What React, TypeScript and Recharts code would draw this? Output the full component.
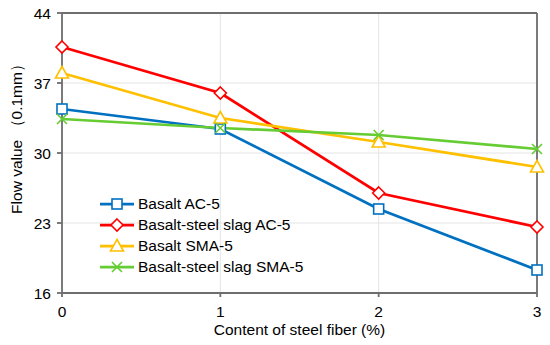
import React from "react"
import {
  LineChart,
  Line,
  XAxis,
  YAxis,
  CartesianGrid,
  ReferenceLine,
} from "recharts"

const fiber = [0, 1, 2, 3]
const basaltAC = [34.4, 32.4, 24.4, 18.3]
const slagAC = [40.6, 36.0, 26.0, 22.6]
const basaltSMA = [38.0, 33.5, 31.1, 28.6]
const slagSMA = [33.4, 32.5, 31.8, 30.4]
const yTicks = [16, 23, 30, 37, 44]
const xTicks = [0, 1, 2, 3]

const series = [
  { key: "basaltAC", name: "Basalt AC-5", color: "#0070C0", shape: "square", values: basaltAC },
  { key: "slagAC", name: "Basalt-steel slag AC-5", color: "#FF0000", shape: "diamond", values: slagAC },
  { key: "basaltSMA", name: "Basalt SMA-5", color: "#FFC000", shape: "triangle", values: basaltSMA },
  { key: "slagSMA", name: "Basalt-steel slag SMA-5", color: "#66CC33", shape: "cross", values: slagSMA },
]

const data = fiber.map((f, i) => {
  const row: Record<string, number> = { fiber: f }
  series.forEach((s) => (row[s.key] = s.values[i]))
  return row
})

const FONT = 'Arial, "Liberation Sans", sans-serif'
const AXIS = "#6e6e6e"

function Marker({ shape, color, cx, cy }: { shape: string; color: string; cx: number; cy: number }) {
  const sw = 1.6
  if (shape === "square")
    return <rect x={cx - 5} y={cy - 5} width={10} height={10} fill="#fff" stroke={color} strokeWidth={sw} />
  if (shape === "diamond")
    return (
      <path
        d={`M${cx},${cy - 6} L${cx + 6},${cy} L${cx},${cy + 6} L${cx - 6},${cy} Z`}
        fill="#fff"
        stroke={color}
        strokeWidth={sw}
      />
    )
  if (shape === "triangle")
    return (
      <path
        d={`M${cx},${cy - 6.5} L${cx + 6.5},${cy + 5} L${cx - 6.5},${cy + 5} Z`}
        fill="#fff"
        stroke={color}
        strokeWidth={sw}
      />
    )
  return (
    <path
      d={`M${cx - 5},${cy - 5} L${cx + 5},${cy + 5} M${cx - 5},${cy + 5} L${cx + 5},${cy - 5}`}
      stroke={color}
      strokeWidth={sw}
    />
  )
}

const dotFor = (shape: string, color: string) => (props: any) => (
  <g key={`${shape}-${props.index}`}>
    <Marker shape={shape} color={color} cx={props.cx} cy={props.cy} />
  </g>
)

function LegendBox() {
  return (
    <div style={{ fontFamily: FONT, fontSize: 15.5, color: "#000" }}>
      {series.map((s) => (
        <div key={s.key} style={{ display: "flex", alignItems: "center", height: 21 }}>
          <svg width={38} height={16} style={{ marginRight: 1 }}>
            <line x1={1} y1={8} x2={35} y2={8} stroke={s.color} strokeWidth={2.75} />
            <Marker shape={s.shape} color={s.color} cx={18} cy={8} />
          </svg>
          <span>{s.name}</span>
        </div>
      ))}
    </div>
  )
}

export default function App() {
  return (
    <div style={{ position: "absolute", left: 0, top: 0, width: 550, height: 345, background: "#fff" }}>
      <LineChart
        width={550}
        height={345}
        data={data}
        margin={{ top: 13, right: 13, bottom: 8, left: 0 }}
        style={{ fontFamily: FONT }}
      >
        <CartesianGrid stroke="#e4e4e4" strokeWidth={1} />
        <XAxis
          dataKey="fiber"
          type="number"
          domain={[0, 3]}
          ticks={xTicks}
          height={44}
          stroke={AXIS}
          strokeWidth={1.8}
          tickSize={4}
          tickMargin={9}
          tick={{ fill: "#000", fontSize: 15.5 }}
          label={{ value: "Content of steel fiber (%)", position: "insideBottom", offset: 2, fill: "#000", fontSize: 15.5 }}
        />
        <YAxis
          type="number"
          domain={[16, 44]}
          ticks={yTicks}
          width={62}
          stroke={AXIS}
          strokeWidth={1.8}
          tickSize={5}
          tickMargin={6}
          tick={{ fill: "#000", fontSize: 15.5 }}
          label={{
            content: () => (
              <text
                x={22}
                y={135}
                transform="rotate(-90 22 135)"
                textAnchor="middle"
                fill="#000"
                fontSize={15.5}
                fontFamily={FONT}
              >
                Flow value （0.1mm）
              </text>
            ),
          }}
        />
        <ReferenceLine y={44} stroke={AXIS} strokeWidth={1.8} />
        <ReferenceLine x={3} stroke={AXIS} strokeWidth={1.8} />
        {series.map((s) => (
          <Line
            key={s.key}
            dataKey={s.key}
            name={s.name}
            stroke={s.color}
            strokeWidth={2.75}
            dot={dotFor(s.shape, s.color)}
            activeDot={false}
            isAnimationActive={false}
          />
        ))}
      </LineChart>
      <div style={{ position: "absolute", left: 99, top: 193 }}>
        <LegendBox />
      </div>
    </div>
  )
}
